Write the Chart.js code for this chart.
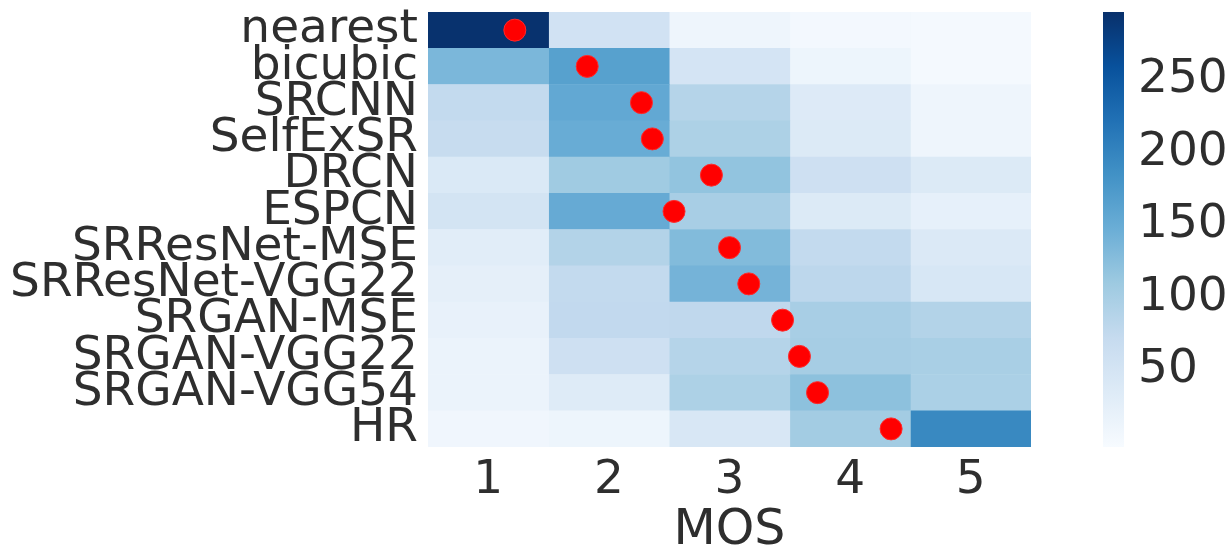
<!DOCTYPE html>
<html>
<head>
    <meta charset="UTF-8">
    <title>MOS heatmap</title>
    <script src="https://cdn.jsdelivr.net/npm/chart.js"></script>
    <style>
        body { margin: 0; background: #fff; }
        #wrap { position: relative; width: 1227px; height: 551px; }
        #main_box { position: absolute; left: 0; top: 0; width: 1227px; height: 551px; }
        #bar_box { position: absolute; left: 1060px; top: 0; width: 167px; height: 551px; }
    </style>
</head>
<body>
<div id="wrap">
    <div id="main_box"><canvas id="heat_chart"></canvas></div>
    <div id="bar_box"><canvas id="color_bar"></canvas></div>
</div>
<script>
    // methods (rows, top to bottom)
    var methods = ['nearest', 'bicubic', 'SRCNN', 'SelfExSR', 'DRCN', 'ESPCN',
        'SRResNet-MSE', 'SRResNet-VGG22', 'SRGAN-MSE', 'SRGAN-VGG22', 'SRGAN-VGG54', 'HR'];
    var scores = [1, 2, 3, 4, 5];

    // number of votes per score, one value per method
    var votes1 = [295, 135, 75, 70, 40, 52, 30, 24, 20, 15, 15, 8];
    var votes2 = [55, 165, 155, 150, 108, 152, 90, 75, 76, 60, 35, 12];
    var votes3 = [10, 50, 88, 95, 118, 100, 130, 140, 78, 88, 95, 44];
    var votes4 = [3, 12, 36, 38, 60, 38, 75, 80, 100, 102, 122, 105];
    var votes5 = [1, 2, 10, 11, 38, 22, 39, 45, 90, 99, 97, 195];
    var votes = [votes1, votes2, votes3, votes4, votes5];

    // mean opinion score per method (red dots)
    var mosMean = [1.22, 1.82, 2.27, 2.36, 2.85, 2.54, 3.00, 3.16, 3.44, 3.58, 3.73, 4.34];

    // colour bar range and ticks
    var cbMin = -3;
    var cbMax = 297;
    var cbTicks = [50, 100, 150, 200, 250];

    // matplotlib "Blues"
    var blues = ['#f7fbff', '#deebf7', '#c6dbef', '#9ecae1', '#6baed6', '#4292c6', '#2171b5', '#08519c', '#08306b'];

    function hexRgb(h) {
        return [parseInt(h.substr(1, 2), 16), parseInt(h.substr(3, 2), 16), parseInt(h.substr(5, 2), 16)];
    }
    function bluesColor(v) {
        var t = (v - cbMin) / (cbMax - cbMin);
        t = Math.max(0, Math.min(1, t));
        var p = t * (blues.length - 1);
        var i = Math.min(Math.floor(p), blues.length - 2);
        var f = p - i;
        var a = hexRgb(blues[i]), b = hexRgb(blues[i + 1]);
        var c = [0, 1, 2].map(function (k) { return Math.round(a[k] + (b[k] - a[k]) * f); });
        return 'rgb(' + c[0] + ',' + c[1] + ',' + c[2] + ')';
    }

    // no extra room for half-height labels at the ends of the axis
    function noEndPadding(axis) {
        axis.paddingTop = 0;
        axis.paddingBottom = 0;
    }

    var textColor = '#2e2e2e';
    var fontFam = '"DejaVu Sans", sans-serif';

    // heatmap cells: one floating bar dataset per score column
    var datasets = [];
    datasets.push({
        type: 'scatter',
        label: 'mean',
        data: methods.map(function (m, i) { return { x: mosMean[i], y: m }; }),
        backgroundColor: '#ff0000',
        borderColor: '#ff2a2a',
        borderWidth: 1,
        pointRadius: 11,
        order: 0
    });
    scores.forEach(function (s, c) {
        datasets.push({
            type: 'bar',
            label: String(s),
            indexAxis: 'y',
            data: methods.map(function () { return [s - 0.5, s + 0.5]; }),
            backgroundColor: votes[c].map(bluesColor),
            borderWidth: 0,
            barPercentage: 1,
            categoryPercentage: 1,
            grouped: false,
            order: 1
        });
    });

    var ctx = document.getElementById('heat_chart').getContext('2d');
    var chart = new Chart(ctx, {
        type: 'bar',
        data: { labels: methods, datasets: datasets },
        options: {
            indexAxis: 'y',
            responsive: true,
            maintainAspectRatio: false,
            animation: false,
            layout: { padding: { top: 12, right: 196, left: 0, bottom: 0 } },
            plugins: { legend: { display: false }, tooltip: { enabled: false } },
            scales: {
                x: {
                    type: 'linear',
                    min: 0.5,
                    max: 5.5,
                    grid: { display: false, drawTicks: false },
                    border: { display: false },
                    afterBuildTicks: function (axis) {
                        axis.ticks = scores.map(function (v) { return { value: v }; });
                    },
                    afterFit: function (axis) { axis.height = 104; },
                    ticks: {
                        color: textColor,
                        padding: 6,
                        maxRotation: 0,
                        font: { family: fontFam, size: 47 }
                    },
                    title: {
                        display: true,
                        text: 'MOS',
                        color: textColor,
                        padding: { top: 0, bottom: -5 },
                        font: { family: fontFam, size: 49, lineHeight: 1 }
                    }
                },
                y: {
                    type: 'category',
                    labels: methods,
                    grid: { display: false, drawTicks: false },
                    border: { display: false },
                    afterFit: function (axis) {
                        axis.width = 428;
                        noEndPadding(axis);
                    },
                    ticks: {
                        color: textColor,
                        padding: 10,
                        autoSkip: false,
                        font: { family: fontFam, size: 47 }
                    }
                }
            }
        }
    });

    // colour bar
    var ctx2 = document.getElementById('color_bar').getContext('2d');
    var colorBar = new Chart(ctx2, {
        type: 'bar',
        data: {
            labels: [''],
            datasets: [{
                data: [[cbMin, cbMax]],
                borderWidth: 0,
                barPercentage: 1,
                categoryPercentage: 1,
                backgroundColor: function (context) {
                    var area = context.chart.chartArea;
                    if (!area) return blues[4];
                    var g = context.chart.ctx.createLinearGradient(0, area.bottom, 0, area.top);
                    blues.forEach(function (col, i) { g.addColorStop(i / (blues.length - 1), col); });
                    return g;
                }
            }]
        },
        options: {
            responsive: true,
            maintainAspectRatio: false,
            animation: false,
            layout: { padding: { top: 12, left: 43, right: 0, bottom: 104 } },
            plugins: { legend: { display: false }, tooltip: { enabled: false } },
            scales: {
                x: { display: false },
                y: {
                    position: 'right',
                    min: cbMin,
                    max: cbMax,
                    grid: { display: false, drawTicks: false },
                    border: { display: false },
                    afterBuildTicks: function (axis) {
                        axis.ticks = cbTicks.map(function (v) { return { value: v }; });
                    },
                    afterFit: function (axis) {
                        axis.width = 103;
                        noEndPadding(axis);
                    },
                    ticks: {
                        color: textColor,
                        padding: 14,
                        font: { family: fontFam, size: 47 }
                    }
                }
            }
        }
    });
</script>
</body>
</html>
